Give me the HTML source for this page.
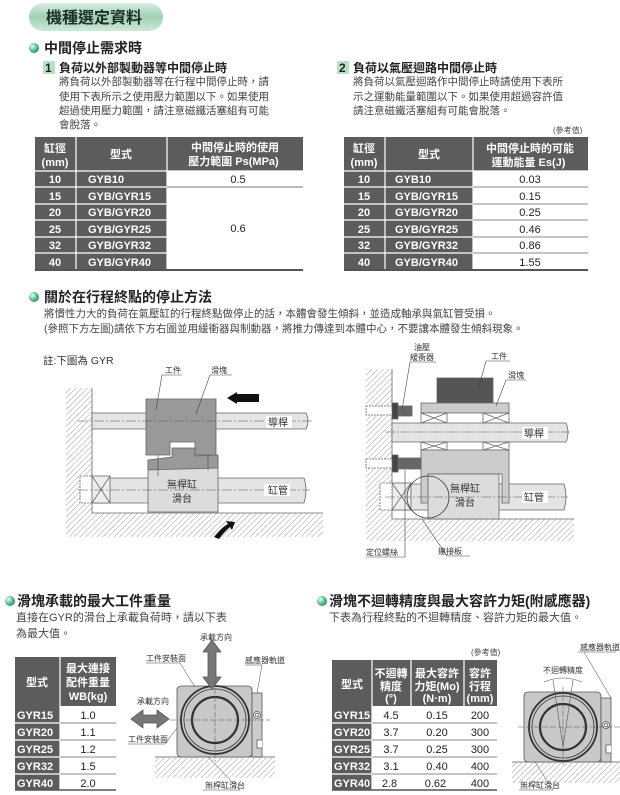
<!DOCTYPE html>
<html><head><meta charset="utf-8"><style>
body{margin:0;background:#fff}
svg{display:block;font-family:"Liberation Sans","Noto Sans CJK TC",sans-serif}
.p{font-size:10.5px;fill:#444}
.h{font-size:14px;font-weight:bold;fill:#222}
.s{font-size:12px;font-weight:bold;fill:#222}
.w{font-size:11px;font-weight:bold;fill:#fff}
.v{font-size:11px;fill:#222}
.l{font-size:8px;fill:#333}
.lb{font-size:10px;fill:#333}
</style></head><body>
<svg width="620" height="795" viewBox="0 0 620 795">
<defs>
<linearGradient id="pill" x1="0" y1="0" x2="0" y2="1"><stop offset="0" stop-color="#d8eee2"/><stop offset=".5" stop-color="#9fd0b4"/><stop offset="1" stop-color="#cfe9da"/></linearGradient>
<radialGradient id="bul" cx=".35" cy=".35" r=".7"><stop offset="0" stop-color="#e8fff2"/><stop offset=".6" stop-color="#5cbf8c"/><stop offset="1" stop-color="#2e8a6a"/></radialGradient>
<pattern id="hat" width="4" height="4" patternUnits="userSpaceOnUse" patternTransform="rotate(45)"><rect width="4" height="4" fill="#fff"/><line x1="0" y1="0" x2="0" y2="4" stroke="#888" stroke-width="0.8"/></pattern>
</defs>

<!-- header pill -->
<rect x="29" y="3" width="134" height="28" rx="14" fill="url(#pill)"/>
<text x="46" y="23" font-size="16" font-weight="bold" fill="#1e2e26">機種選定資料</text>

<!-- section 1 -->
<circle cx="34" cy="48" r="5" fill="url(#bul)"/>
<text x="44" y="53" class="h">中間停止需求時</text>
<rect x="43" y="61" width="12" height="13" fill="#b9e1c6"/>
<text x="45" y="72" class="s">1</text>
<text x="59" y="72" class="s">負荷以外部製動器等中間停止時</text>
<text class="p"><tspan x="59" y="85">將負荷以外部製動器等在行程中間停止時，請</tspan><tspan x="59" y="100">使用下表所示之使用壓力範圍以下。如果使用</tspan><tspan x="59" y="114">超過使用壓力範圍，請注意磁鐵活塞組有可能</tspan><tspan x="59" y="128">會脫落。</tspan></text>
<rect x="337" y="61" width="12" height="13" fill="#b9e1c6"/>
<text x="339" y="72" class="s">2</text>
<text x="353" y="72" class="s">負荷以氣壓迴路中間停止時</text>
<text class="p"><tspan x="353" y="85">將負荷以氣壓迴路作中間停止時請使用下表所</tspan><tspan x="353" y="100">示之運動能量範圍以下。如果使用超過容許值</tspan><tspan x="353" y="114">請注意磁鐵活塞組有可能會脫落。</tspan></text>
<text x="553" y="133" font-size="8" fill="#444">(參考值)</text>

<!-- table 1 -->
<g>
<rect x="35" y="137" width="268" height="34" fill="#5a5c5e"/>
<rect x="35" y="171" width="132" height="99" fill="#5a5c5e"/>
<g stroke="#fff" stroke-width="1.2"><line x1="76" y1="137" x2="76" y2="270"/><line x1="167" y1="137" x2="167" y2="270"/>
<line x1="35" y1="171" x2="303" y2="171"/><line x1="35" y1="187" x2="167" y2="187"/><line x1="35" y1="204" x2="167" y2="204"/><line x1="35" y1="220" x2="167" y2="220"/><line x1="35" y1="237" x2="167" y2="237"/><line x1="35" y1="253" x2="167" y2="253"/></g>
<line x1="167" y1="187" x2="303" y2="187" stroke="#777"/>
<line x1="35" y1="270" x2="303" y2="270" stroke="#555" stroke-width="2"/>
<text class="w" text-anchor="middle"><tspan x="55" y="152">缸徑</tspan><tspan x="55" y="166">(mm)</tspan><tspan x="121" y="158">型式</tspan><tspan x="235" y="151">中間停止時的使用</tspan><tspan x="235" y="165">壓力範圍 Ps(MPa)</tspan>
<tspan x="55" y="183">10</tspan><tspan x="55" y="200">15</tspan><tspan x="55" y="216">20</tspan><tspan x="55" y="233">25</tspan><tspan x="55" y="249">32</tspan><tspan x="55" y="266">40</tspan></text>
<text class="w"><tspan x="88" y="183">GYB10</tspan><tspan x="88" y="200">GYB/GYR15</tspan><tspan x="88" y="216">GYB/GYR20</tspan><tspan x="88" y="233">GYB/GYR25</tspan><tspan x="88" y="249">GYB/GYR32</tspan><tspan x="88" y="266">GYB/GYR40</tspan></text>
<text class="v" text-anchor="middle"><tspan x="238" y="183">0.5</tspan><tspan x="238" y="232">0.6</tspan></text>
</g>
<!-- table 2 -->
<g>
<rect x="344" y="137" width="244" height="34" fill="#5a5c5e"/>
<rect x="344" y="171" width="129" height="99" fill="#5a5c5e"/>
<g stroke="#fff" stroke-width="1.2"><line x1="385" y1="137" x2="385" y2="270"/><line x1="473" y1="137" x2="473" y2="270"/>
<line x1="344" y1="171" x2="588" y2="171"/><line x1="344" y1="187" x2="473" y2="187"/><line x1="344" y1="204" x2="473" y2="204"/><line x1="344" y1="220" x2="473" y2="220"/><line x1="344" y1="237" x2="473" y2="237"/><line x1="344" y1="253" x2="473" y2="253"/></g>
<g stroke="#888"><line x1="473" y1="187" x2="588" y2="187"/><line x1="473" y1="204" x2="588" y2="204"/><line x1="473" y1="220" x2="588" y2="220"/><line x1="473" y1="237" x2="588" y2="237"/><line x1="473" y1="253" x2="588" y2="253"/></g>
<line x1="344" y1="270" x2="588" y2="270" stroke="#555" stroke-width="2"/>
<text class="w" text-anchor="middle"><tspan x="364" y="152">缸徑</tspan><tspan x="364" y="166">(mm)</tspan><tspan x="429" y="158">型式</tspan><tspan x="530" y="152">中間停止時的可能</tspan><tspan x="530" y="166">運動能量 Es(J)</tspan>
<tspan x="364" y="183">10</tspan><tspan x="364" y="200">15</tspan><tspan x="364" y="216">20</tspan><tspan x="364" y="233">25</tspan><tspan x="364" y="249">32</tspan><tspan x="364" y="266">40</tspan></text>
<text class="w"><tspan x="395" y="183">GYB10</tspan><tspan x="395" y="200">GYB/GYR15</tspan><tspan x="395" y="216">GYB/GYR20</tspan><tspan x="395" y="233">GYB/GYR25</tspan><tspan x="395" y="249">GYB/GYR32</tspan><tspan x="395" y="266">GYB/GYR40</tspan></text>
<text class="v" text-anchor="middle"><tspan x="530" y="183">0.03</tspan><tspan x="530" y="200">0.15</tspan><tspan x="530" y="216">0.25</tspan><tspan x="530" y="233">0.46</tspan><tspan x="530" y="249">0.86</tspan><tspan x="530" y="266">1.55</tspan></text>
</g>

<!-- section 2 -->
<circle cx="34" cy="297" r="5" fill="url(#bul)"/>
<text x="44" y="302" class="h">關於在行程終點的停止方法</text>
<text class="p"><tspan x="44" y="317">將慣性力大的負荷在氣壓缸的行程終點做停止的話，本體會發生傾斜，並造成軸承與氣缸管受損。</tspan><tspan x="44" y="332">(參照下方左圖)請依下方右圖並用緩衝器與制動器，將推力傳達到本體中心，不要讓本體發生傾斜現象。</tspan></text>
<text x="43" y="364" font-size="10.5" fill="#333">註:下圖為 GYR</text>

<!-- left figure -->
<g stroke="#666" stroke-width="0.8">
<rect x="66" y="388" width="26" height="125" fill="url(#hat)" stroke="none"/>
<rect x="66" y="513" width="257" height="24" fill="url(#hat)" stroke="none"/>
<line x1="92" y1="388" x2="92" y2="513"/><line x1="92" y1="513" x2="323" y2="513"/>
<path d="M92,413 H306 Q310,421 306,429 H92 Z" fill="#e4e4e4"/>
<path d="M92,478 H304 Q308,490 304,503 H92 Z" fill="#e4e4e4"/>
<rect x="80" y="476" width="12" height="27" fill="#fff" stroke-dasharray="2,1"/>
<rect x="92" y="476" width="18" height="27" fill="#eee"/>
<path d="M92,476 L110,503 M110,476 L92,503"/>
<path d="M148,460 L218,456 V512 H148 Z" fill="#dcdcdc"/>
<path d="M148,460 L172,457 V448 H195 V456 L218,455 V468 L148,470 Z" fill="#999"/>
<path d="M146,399 H216 V455 H195 V442 H170 V455 H146 Z" fill="#999"/>
</g>
<g stroke="#555" stroke-width="0.6" fill="none" stroke-dasharray="10,2,2,2"><line x1="78" y1="421" x2="312" y2="421"/><line x1="78" y1="490" x2="310" y2="490"/></g>
<path d="M227,398 L237,392 V394 H259 V402 H237 V404 Z" fill="#111"/>
<path d="M214,537 Q222,527 228,524 L226,521 L235,522 L232,530 L230,527 Q224,532 219,539 Z" fill="#111"/>
<g stroke="#444" stroke-width="0.6" fill="none"><path d="M156,410 L162,375 H182"/><path d="M196,414 L210,375 H232"/><line x1="158" y1="455" x2="158" y2="476"/><line x1="208" y1="455" x2="208" y2="470"/></g>
<text class="l"><tspan x="165" y="373">工件</tspan><tspan x="211" y="373">滑塊</tspan></text>
<rect x="266" y="416" width="26" height="12" fill="#fff"/><rect x="264" y="484" width="26" height="12" fill="#fff"/>
<text class="lb"><tspan x="268" y="426">導桿</tspan><tspan x="268" y="494">缸管</tspan><tspan x="167" y="488">無桿缸</tspan><tspan x="172" y="502">滑台</tspan></text>

<!-- right figure -->
<g stroke="#666" stroke-width="0.8">
<rect x="366" y="369" width="26" height="150" fill="url(#hat)" stroke="none"/>
<rect x="366" y="519" width="208" height="22" fill="url(#hat)" stroke="none"/>
<line x1="392" y1="369" x2="392" y2="519"/><line x1="392" y1="519" x2="574" y2="519"/>
<path d="M392,484 H564 Q568,497 564,510 H392 Z" fill="#e4e4e4"/>
<rect x="437" y="378" width="56" height="25" fill="#555"/>
<rect x="421" y="403" width="88" height="10" fill="#ccc"/>
<rect x="421" y="413" width="26" height="10" fill="#fff"/><rect x="483" y="413" width="26" height="10" fill="#fff"/>
<path d="M421,413 L447,423 M447,413 L421,423 M483,413 L509,423 M509,413 L483,423"/>
<path d="M392,423 H566 Q570,432 566,442 H392 Z" fill="#e4e4e4"/>
<rect x="421" y="442" width="26" height="8" fill="#fff"/><rect x="483" y="442" width="26" height="8" fill="#fff"/>
<path d="M421,442 L447,450 M447,442 L421,450 M483,442 L509,450 M509,442 L483,450"/>
<path d="M421,450 H509 V503 H502 V474 H428 V503 H421 Z" fill="#ccc"/>
<rect x="428" y="474" width="71" height="45" fill="#dcdcdc"/>
<rect x="392" y="483" width="19" height="27" fill="#eee"/>
<path d="M392,483 L411,510 M411,483 L392,510"/>
<rect x="380" y="483" width="12" height="27" fill="#fff" stroke-dasharray="2,1"/>
<rect x="392" y="403" width="6" height="16" fill="#444"/><rect x="398" y="406" width="14" height="10" fill="#666"/>
<rect x="366" y="406" width="26" height="9" fill="#fff" stroke-dasharray="2,1"/>
<rect x="392" y="455" width="6" height="17" fill="#444"/><rect x="398" y="458" width="23" height="11" fill="#666"/>
<rect x="366" y="459" width="26" height="9" fill="#fff" stroke-dasharray="2,1"/>
<circle cx="428" cy="497" r="21" fill="none" stroke="#333"/>
</g>
<g stroke="#555" stroke-width="0.6" fill="none" stroke-dasharray="10,2,2,2"><line x1="385" y1="432" x2="570" y2="432"/><line x1="385" y1="497" x2="568" y2="497"/></g>
<g stroke="#444" stroke-width="0.6" fill="none"><path d="M402,410 L410,362 H436"/><path d="M478,390 L486,361 H510"/><path d="M496,406 L506,380 H526"/><path d="M405,470 V557 H366"/><path d="M422,519 L447,556 H470"/></g>
<text class="l"><tspan x="414" y="350">油壓</tspan><tspan x="410" y="360">緩衝器</tspan><tspan x="491" y="359">工件</tspan><tspan x="508" y="378">滑塊</tspan><tspan x="366" y="555">定位螺絲</tspan><tspan x="438" y="554">連接板</tspan></text>
<rect x="522" y="427" width="26" height="12" fill="#fff"/><rect x="522" y="491" width="26" height="12" fill="#fff"/>
<text class="lb"><tspan x="524" y="437">導桿</tspan><tspan x="524" y="501">缸管</tspan><tspan x="450" y="492">無桿缸</tspan><tspan x="455" y="506">滑台</tspan></text>

<!-- section 3 -->
<circle cx="10" cy="601" r="5" fill="url(#bul)"/>
<text x="17" y="606" class="h">滑塊承載的最大工件重量</text>
<text font-size="11" fill="#444"><tspan x="16" y="621">直接在GYR的滑台上承載負荷時，請以下表</tspan><tspan x="16" y="637">為最大值。</tspan></text>
<rect x="15" y="657" width="101" height="49" fill="#5a5c5e"/>
<rect x="15" y="706" width="45" height="84" fill="#5a5c5e"/>
<g stroke="#fff" stroke-width="1.2"><line x1="60" y1="657" x2="60" y2="790"/><line x1="15" y1="723" x2="60" y2="723"/><line x1="15" y1="740" x2="60" y2="740"/><line x1="15" y1="757" x2="60" y2="757"/><line x1="15" y1="774" x2="60" y2="774"/></g>
<g stroke="#888"><line x1="60" y1="723" x2="116" y2="723"/><line x1="60" y1="740" x2="116" y2="740"/><line x1="60" y1="757" x2="116" y2="757"/><line x1="60" y1="774" x2="116" y2="774"/></g>
<line x1="15" y1="790" x2="116" y2="790" stroke="#555" stroke-width="1.5"/>
<text class="w" text-anchor="middle" font-size="12"><tspan x="37" y="686">型式</tspan><tspan x="88" y="672">最大連接</tspan><tspan x="88" y="686">配件重量</tspan><tspan x="88" y="700">WB(kg)</tspan></text>
<text class="w" font-size="12"><tspan x="17" y="719">GYR15</tspan><tspan x="17" y="736">GYR20</tspan><tspan x="17" y="753">GYR25</tspan><tspan x="17" y="770">GYR32</tspan><tspan x="17" y="787">GYR40</tspan></text>
<text class="v" font-size="12" text-anchor="middle"><tspan x="88" y="719">1.0</tspan><tspan x="88" y="736">1.1</tspan><tspan x="88" y="753">1.2</tspan><tspan x="88" y="770">1.5</tspan><tspan x="88" y="787">2.0</tspan></text>

<!-- fig 3 -->
<g stroke="#555" stroke-width="0.8">
<rect x="155" y="758" width="120" height="20" fill="url(#hat)" stroke="none"/>
<line x1="155" y1="757" x2="275" y2="757"/>
<rect x="177" y="686" width="75" height="71" rx="4" fill="#c8c8c8"/>
<rect x="252" y="693" width="10" height="64" fill="#ccc"/>
<path d="M262,740 H257 V748 H262" fill="#fff"/>
<circle cx="257" cy="715" r="3.5" fill="#fff"/><circle cx="257" cy="715" r="1.8" fill="none"/>
<circle cx="215" cy="720" r="34" fill="none" stroke="#333" stroke-width="1.8"/>
<circle cx="215" cy="720" r="31" fill="none" stroke="#333" stroke-width="0.8"/>
<circle cx="215" cy="720" r="23" fill="none" stroke="#333" stroke-width="2.2"/>
<path d="M212,640 L221,652 H216 V677 H221 L212,689 L203,677 H208 V652 H203 Z" fill="#777"/>
<path d="M131,719 L143,710 V715 H157 V710 L169,719 L157,728 V723 H143 V728 Z" fill="#777"/>
</g>
<g stroke="#555" stroke-width="0.5" fill="none" stroke-dasharray="6,2"><line x1="215" y1="680" x2="215" y2="762"/><line x1="170" y1="720" x2="270" y2="720"/></g>
<g stroke="#444" stroke-width="0.5" fill="none"><path d="M146,663 H180 L195,687"/><path d="M245,665 H262 L257,693"/><path d="M128,744 H165 L177,728"/><path d="M203,790 H240 L208,757"/></g>
<text class="l" font-size="7"><tspan x="200" y="640">承載方向</tspan><tspan x="146" y="661">工件安裝面</tspan><tspan x="245" y="663">感應器軌道</tspan><tspan x="137" y="704">承載方向</tspan><tspan x="128" y="742">工件安裝面</tspan><tspan x="205" y="788">無桿缸滑台</tspan></text>

<!-- section 4 -->
<circle cx="322" cy="601" r="5" fill="url(#bul)"/>
<text x="329" y="606" class="h">滑塊不迴轉精度與最大容許力矩(附感應器)</text>
<text x="329" y="621" font-size="11" fill="#444">下表為行程終點的不迴轉精度、容許力矩的最大值。</text>
<text x="471" y="655" font-size="8" fill="#444">(參考值)</text>
<rect x="332" y="660" width="165" height="46" fill="#5a5c5e"/>
<rect x="332" y="706" width="40" height="84" fill="#5a5c5e"/>
<g stroke="#fff" stroke-width="1.2"><line x1="372" y1="660" x2="372" y2="790"/><line x1="411" y1="660" x2="411" y2="706"/><line x1="464" y1="660" x2="464" y2="706"/><line x1="332" y1="723" x2="372" y2="723"/><line x1="332" y1="740" x2="372" y2="740"/><line x1="332" y1="757" x2="372" y2="757"/><line x1="332" y1="774" x2="372" y2="774"/></g>
<g stroke="#888"><line x1="372" y1="723" x2="497" y2="723"/><line x1="372" y1="740" x2="497" y2="740"/><line x1="372" y1="757" x2="497" y2="757"/><line x1="372" y1="774" x2="497" y2="774"/></g>
<line x1="332" y1="790" x2="497" y2="790" stroke="#555" stroke-width="1.5"/>
<text class="w" text-anchor="middle" font-size="12"><tspan x="352" y="688">型式</tspan><tspan x="391" y="677">不迴轉</tspan><tspan x="391" y="690">精度</tspan><tspan x="391" y="702">(°)</tspan><tspan x="437" y="677">最大容許</tspan><tspan x="437" y="690">力矩(Mo)</tspan><tspan x="437" y="702">(N·m)</tspan><tspan x="480" y="677">容許</tspan><tspan x="480" y="690">行程</tspan><tspan x="480" y="702">(mm)</tspan></text>
<text class="w" font-size="12"><tspan x="334" y="719">GYR15</tspan><tspan x="334" y="736">GYR20</tspan><tspan x="334" y="753">GYR25</tspan><tspan x="334" y="770">GYR32</tspan><tspan x="334" y="787">GYR40</tspan></text>
<text class="v" font-size="12" text-anchor="middle"><tspan x="391" y="719">4.5</tspan><tspan x="391" y="736">3.7</tspan><tspan x="391" y="753">3.7</tspan><tspan x="391" y="770">3.1</tspan><tspan x="391" y="787">2.8</tspan>
<tspan x="437" y="719">0.15</tspan><tspan x="437" y="736">0.20</tspan><tspan x="437" y="753">0.25</tspan><tspan x="437" y="770">0.40</tspan><tspan x="437" y="787">0.62</tspan>
<tspan x="480" y="719">200</tspan><tspan x="480" y="736">300</tspan><tspan x="480" y="753">300</tspan><tspan x="480" y="770">400</tspan><tspan x="480" y="787">400</tspan></text>

<!-- fig 4 -->
<g stroke="#555" stroke-width="0.8">
<rect x="512" y="763" width="108" height="20" fill="url(#hat)" stroke="none"/>
<line x1="512" y1="762" x2="620" y2="762"/>
<rect x="524" y="692" width="77" height="70" rx="4" fill="#c8c8c8"/>
<rect x="601" y="698" width="10" height="64" fill="#ccc"/>
<path d="M611,745 H606 V753 H611" fill="#fff"/>
<circle cx="606" cy="725" r="3.5" fill="#fff"/><circle cx="606" cy="725" r="1.8" fill="none"/>
<circle cx="563" cy="727" r="34" fill="none" stroke="#333" stroke-width="1.8"/>
<circle cx="563" cy="727" r="31" fill="none" stroke="#333" stroke-width="0.8"/>
<circle cx="563" cy="727" r="23" fill="none" stroke="#333" stroke-width="2.2"/>
<path d="M563,747 L553,680 M563,747 L573,680" fill="none" stroke-width="0.6"/>
<path d="M544,682 Q563,674 582,682" fill="none" stroke-width="0.6"/>
</g>
<g stroke="#555" stroke-width="0.5" fill="none" stroke-dasharray="6,2"><line x1="563" y1="687" x2="563" y2="767"/><line x1="518" y1="727" x2="620" y2="727"/></g>
<g stroke="#444" stroke-width="0.5" fill="none"><path d="M578,652 H616"/><path d="M584,652 L611,698"/><path d="M519,790 H553 L535,762"/></g>
<text class="l" font-size="7"><tspan x="580" y="650">感應器軌道</tspan><tspan x="543" y="673">不迴轉精度</tspan><tspan x="520" y="788">無桿缸滑台</tspan></text>
</svg>
</body></html>
